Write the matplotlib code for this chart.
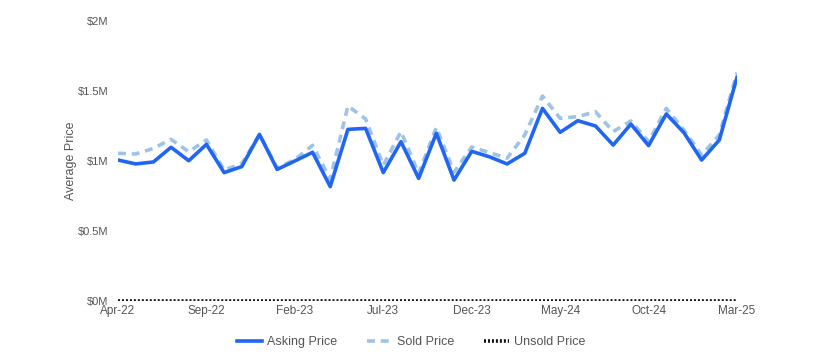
import matplotlib
matplotlib.use("Agg")
import matplotlib.pyplot as plt
from matplotlib.ticker import FuncFormatter

months = ["Apr-22","May-22","Jun-22","Jul-22","Aug-22","Sep-22","Oct-22","Nov-22","Dec-22",
          "Jan-23","Feb-23","Mar-23","Apr-23","May-23","Jun-23","Jul-23","Aug-23","Sep-23",
          "Oct-23","Nov-23","Dec-23","Jan-24","Feb-24","Mar-24","Apr-24","May-24","Jun-24",
          "Jul-24","Aug-24","Sep-24","Oct-24","Nov-24","Dec-24","Jan-25","Feb-25","Mar-25"]
asking = [1.007, 0.979, 0.993, 1.098, 1.002, 1.119, 0.917, 0.960, 1.190, 0.940, 1.000, 1.062,
          0.817, 1.226, 1.233, 0.917, 1.138, 0.876, 1.198, 0.864, 1.069, 1.030, 0.979, 1.055,
          1.376, 1.205, 1.288, 1.250, 1.114, 1.264, 1.110, 1.336, 1.202, 1.007, 1.150, 1.598]
sold = [1.055, 1.050, 1.090, 1.155, 1.066, 1.150, 0.936, 0.980, 1.190, 0.950, 1.010, 1.112,
        0.870, 1.393, 1.300, 0.970, 1.210, 0.910, 1.240, 0.920, 1.100, 1.060, 1.020, 1.186,
        1.464, 1.305, 1.317, 1.352, 1.210, 1.286, 1.138, 1.376, 1.221, 1.043, 1.186, 1.631]
unsold = [0.0] * len(months)

plt.rcParams['font.family'] = ['Liberation Sans', 'DejaVu Sans']
text_color = '#555555'

fig = plt.figure(figsize=(8.14, 3.62), dpi=100)
ax = fig.add_axes([118/814, (362-301)/362, (737-118)/814, (301-21)/362])

x = list(range(len(months)))
ax.plot(x, sold, color='#9fc3e7', lw=2.6, ls=(0, (2.2, 1.6)), label='Sold Price', zorder=2)
ax.plot(x, asking, color='#2166f2', lw=2.6, label='Asking Price', zorder=3)
ax.plot(x, unsold, color='#111111', lw=2.6, ls=(0, (0.55, 0.55)), label='Unsold Price', zorder=4)

ax.set_xlim(0, len(months) - 1)
ax.set_ylim(0, 2)
ax.set_yticks([0, 0.5, 1, 1.5, 2])
ax.yaxis.set_major_formatter(FuncFormatter(lambda v, p: f"${v:g}M"))
ax.set_xticks(x[::5])
ax.set_xticklabels(months[::5])
for s in ax.spines.values():
    s.set_visible(False)
ax.tick_params(length=0, labelsize=8.5, colors=text_color, pad=3)
ax.tick_params(axis='y', labelsize=8, pad=7)
ax.set_ylabel('Average Price', fontsize=9, color=text_color)
ax.yaxis.set_label_coords(-0.067, 0.5)

h, l = ax.get_legend_handles_labels()
order = [1, 0, 2]
leg = fig.legend([h[i] for i in order], [l[i] for i in order], loc='center',
                 bbox_to_anchor=(0.505, (362-342)/362), ncol=3, frameon=False,
                 fontsize=9, handlelength=2.0, columnspacing=2.4, handletextpad=0.4)
for t in leg.get_texts():
    t.set_color(text_color)

fig.savefig('out.png', dpi=100)
